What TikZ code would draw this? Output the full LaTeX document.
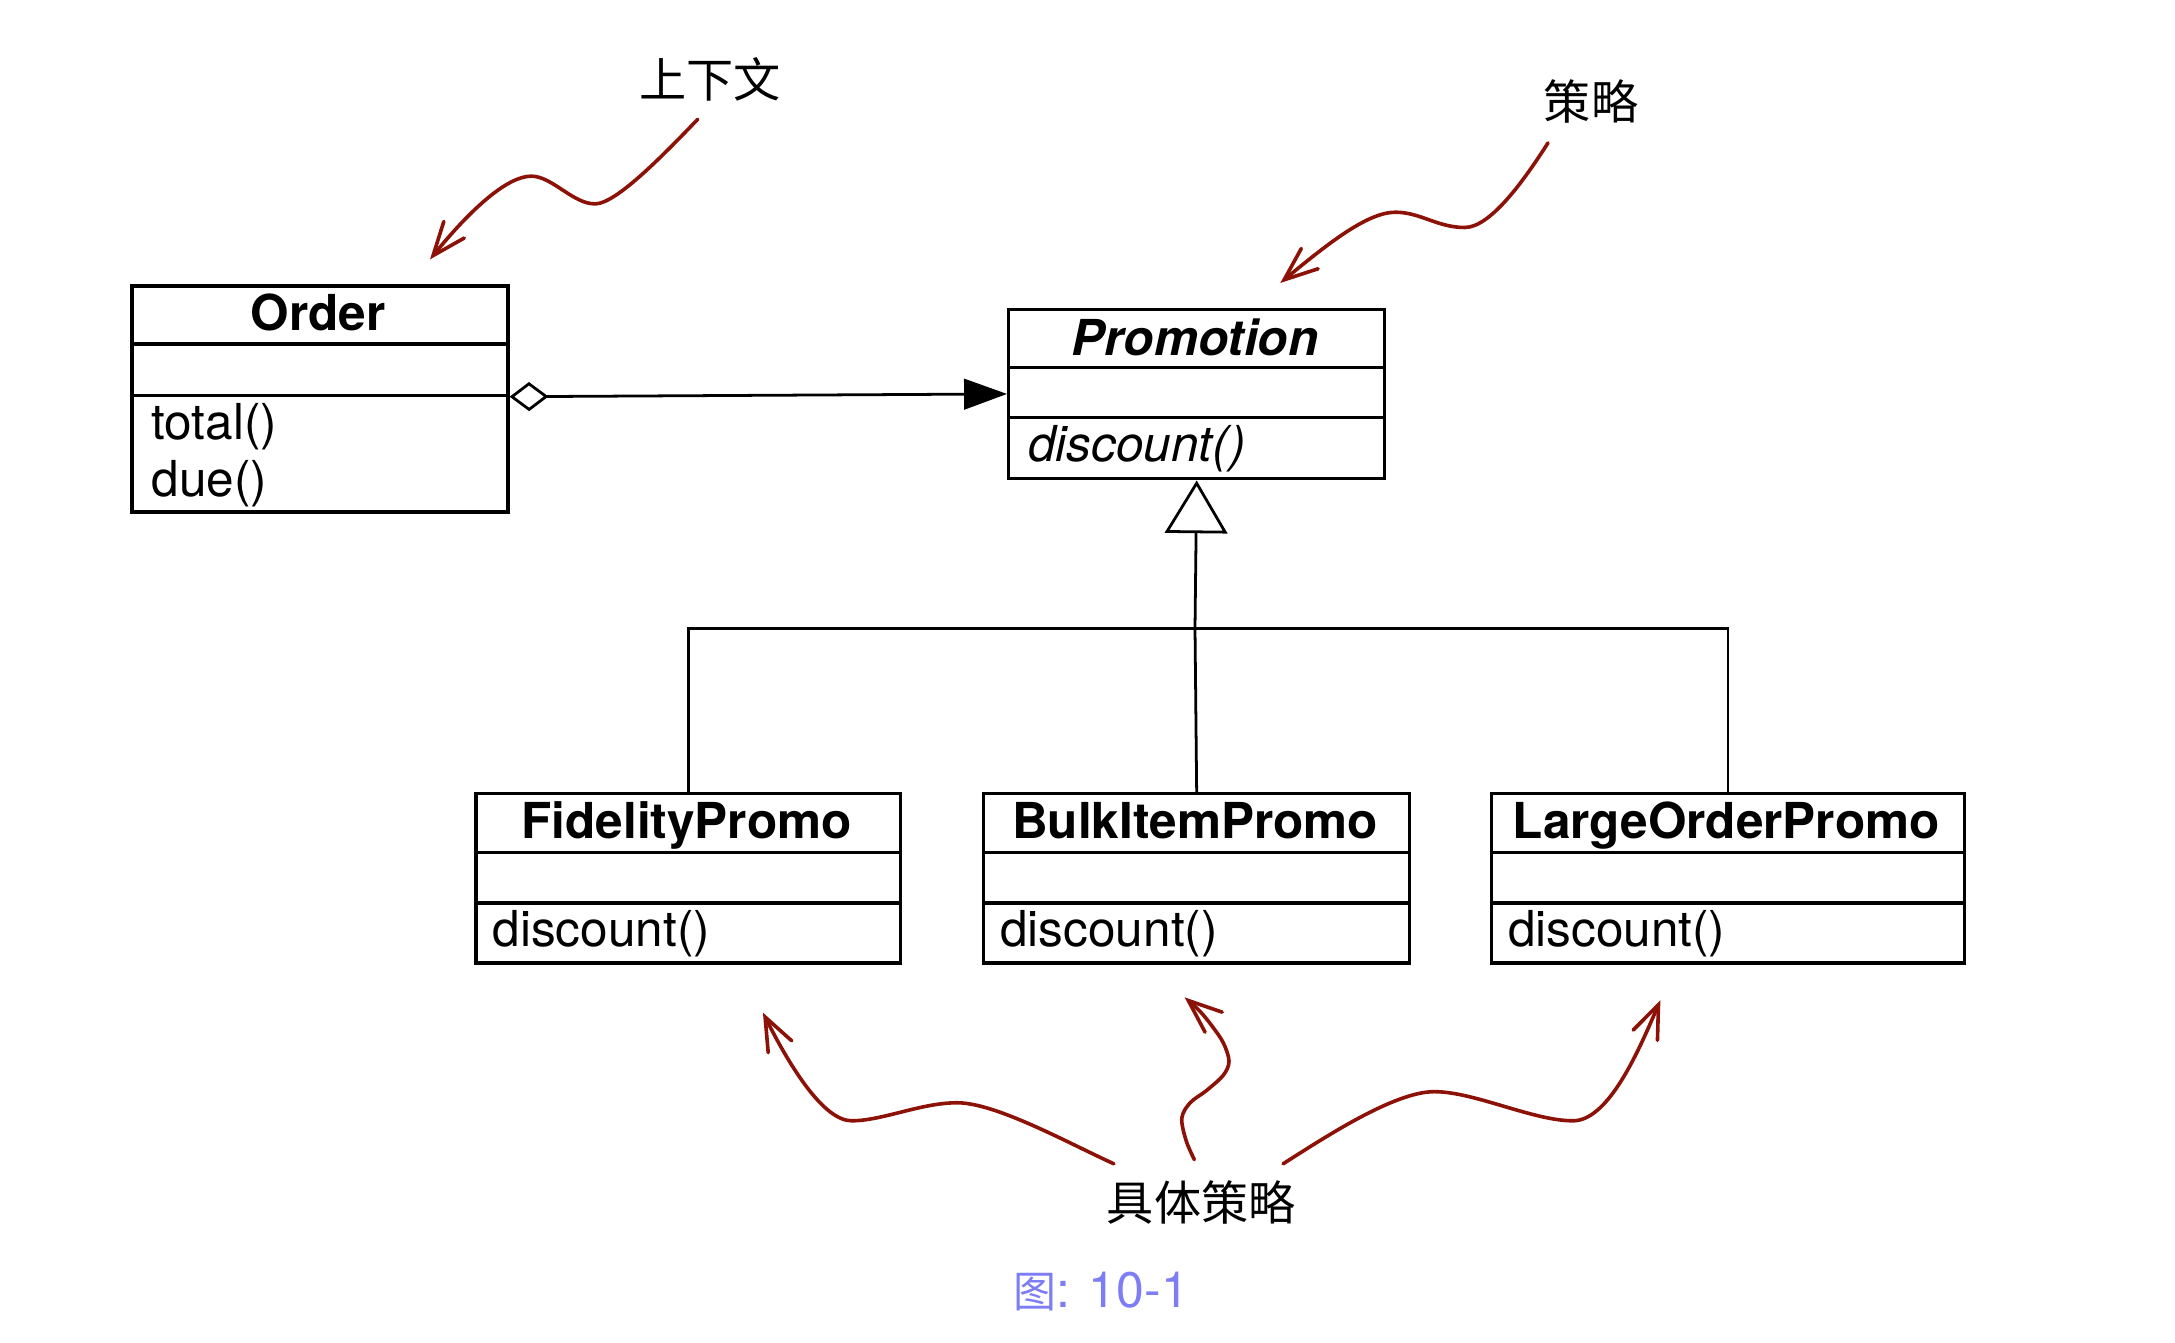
\documentclass[tikz,border=0pt]{standalone}
\usepackage{fontspec}
\setmainfont{TeX Gyre Heros}
\newfontfamily\cjk{Noto Sans CJK SC}
\usetikzlibrary{arrows.meta}
\definecolor{redarrow}{RGB}{140,18,8}
\definecolor{capblue}{RGB}{125,125,245}
\begin{document}
\begin{tikzpicture}[x=1pt,y=-1pt,
  cls/.style={draw, line width=2.4pt, anchor=north west, inner sep=0pt},
  ttl/.style={anchor=base, inner sep=0pt, font=\fontsize{35.7pt}{40pt}\selectfont\bfseries},
  ittl/.style={anchor=base, inner sep=0pt, font=\fontsize{35.7pt}{40pt}\selectfont\bfseries\itshape},
  mth/.style={anchor=base west, inner sep=0pt, font=\fontsize{35.7pt}{40pt}\selectfont},
  imth/.style={anchor=base west, inner sep=0pt, font=\fontsize{35.7pt}{40pt}\selectfont\itshape},
  sep/.style={line width=2.4pt},
  conn/.style={line width=2pt},
  note/.style={anchor=base, inner sep=0pt, font=\cjk\fontsize{34pt}{40pt}\selectfont},
  squig/.style={draw=redarrow, line width=2.6pt, line cap=round,
    -{Straight Barb[length=24pt,width=19pt,line cap=round]}}
]
\useasboundingbox (0,0) rectangle (1568,968);

% classes
\node[cls, minimum width=271pt, minimum height=163pt] (order) at (94,205) {};
\draw[sep] ([yshift=-43pt]order.north west) -- ([yshift=-43pt]order.north east);
\draw[sep] ([yshift=-80pt]order.north west) -- ([yshift=-80pt]order.north east);
\node[ttl] (ordern) at (229.5,238.6) {Order};
\node[mth] (ordm1) at (109,316.5) {total()};
\node[mth] (ordm2) at (109,358) {due()};

\node[cls, minimum width=271pt, minimum height=122pt] (prom) at (726,222) {};
\draw[sep] ([yshift=-43pt]prom.north west) -- ([yshift=-43pt]prom.north east);
\draw[sep] ([yshift=-79pt]prom.north west) -- ([yshift=-79pt]prom.north east);
\node[ittl] (promn) at (861.5,256) {Promotion};
\node[imth] (promm) at (741,333) {discount()};

\node[cls, minimum width=306pt, minimum height=122pt] (fid) at (342,571) {};
\node[cls, minimum width=307pt, minimum height=122pt] (bulk) at (708,571) {};
\node[cls, minimum width=341pt, minimum height=122pt] (large) at (1074,571) {};
\foreach \b in {fid,bulk,large}{
  \draw[sep] ([yshift=-43.5pt]\b.north west) -- ([yshift=-43.5pt]\b.north east);
  \draw[sep] ([yshift=-80pt]\b.north west) -- ([yshift=-80pt]\b.north east);
}
\node[ttl] (fidn) at (495,604.5) {FidelityPromo};
\node[ttl] (bulkn) at (861.5,604.5) {BulkItemPromo};
\node[ttl] (largen) at (1244.5,604.5) {LargeOrderPromo};
\node[mth] (fidm) at (355,682.5) {discount()};
\node[mth] (bulkm) at (721,682.5) {discount()};
\node[mth] (largem) at (1087,682.5) {discount()};

% aggregation
\draw[conn, {Diamond[open,length=28pt,width=21pt]}-{Triangle[length=31pt,width=22pt]}]
  ([yshift=-81pt]order.north east) -- ([yshift=-62pt]prom.north west);

% inheritance
\coordinate (j) at (861.5,453);
\draw[conn, -{Triangle[open,length=38pt,width=45pt]}] (j) -- (prom.south);
\draw[conn] (fid.north) |- (j);
\draw[conn] (large.north) |- (j);
\draw[conn] (bulk.north) -- (j);

% labels
\node[note] (ctx) at (512,70) {上下文};
\node[note] (strat) at (1147,86) {策略};
\node[note] (conc) at (866,880) {具体策略};
\node[anchor=base west, inner sep=0pt, text=capblue, font=\fontsize{36pt}{40pt}\selectfont] (cap) at (730.5,942.4) {{\cjk\fontsize{31pt}{36pt}\selectfont 图}: 10-1};

% red squiggly arrows
\coordinate (a1s) at (503,86);   \coordinate (a1t) at (310,187);
\coordinate (a2s) at (1116,103); \coordinate (a2t) at (923,204);
\coordinate (a3s) at (803,839);  \coordinate (a3t) at (550,730);
\coordinate (a4s) at (861,836);  \coordinate (a4t) at (854,719);
\coordinate (a5s) at (925,839);  \coordinate (a5t) at (1197,721);

\draw[squig] (a1s) .. controls (478,112) and (444,147) .. (429,147)
  .. controls (413,147) and (398,127) .. (383,127)
  .. controls (366,127) and (340,150) .. (a1t);
\draw[squig] (a2s) .. controls (1100,128) and (1075,164) .. (1056,164)
  .. controls (1036,164) and (1024,153) .. (1006,153)
  .. controls (986,153) and (958,175) .. (a2t);
\draw[squig] (a3s) .. controls (770,824) and (718,795) .. (690,795)
  .. controls (664,795) and (636,808) .. (614,808)
  .. controls (594,808) and (570,770) .. (a3t);
\draw[squig] plot[smooth, tension=0.55] coordinates {(a4s) (855,822) (852,806) (858,795) (870,786) (882,775) (886,765) (882,752) (874,740) (865,729) (a4t)};
\draw[squig] (a5s) .. controls (955,820) and (1005,787) .. (1034,787)
  .. controls (1063,787) and (1105,808) .. (1134,808)
  .. controls (1160,808) and (1182,756) .. (a5t);
\end{tikzpicture}
\end{document}
